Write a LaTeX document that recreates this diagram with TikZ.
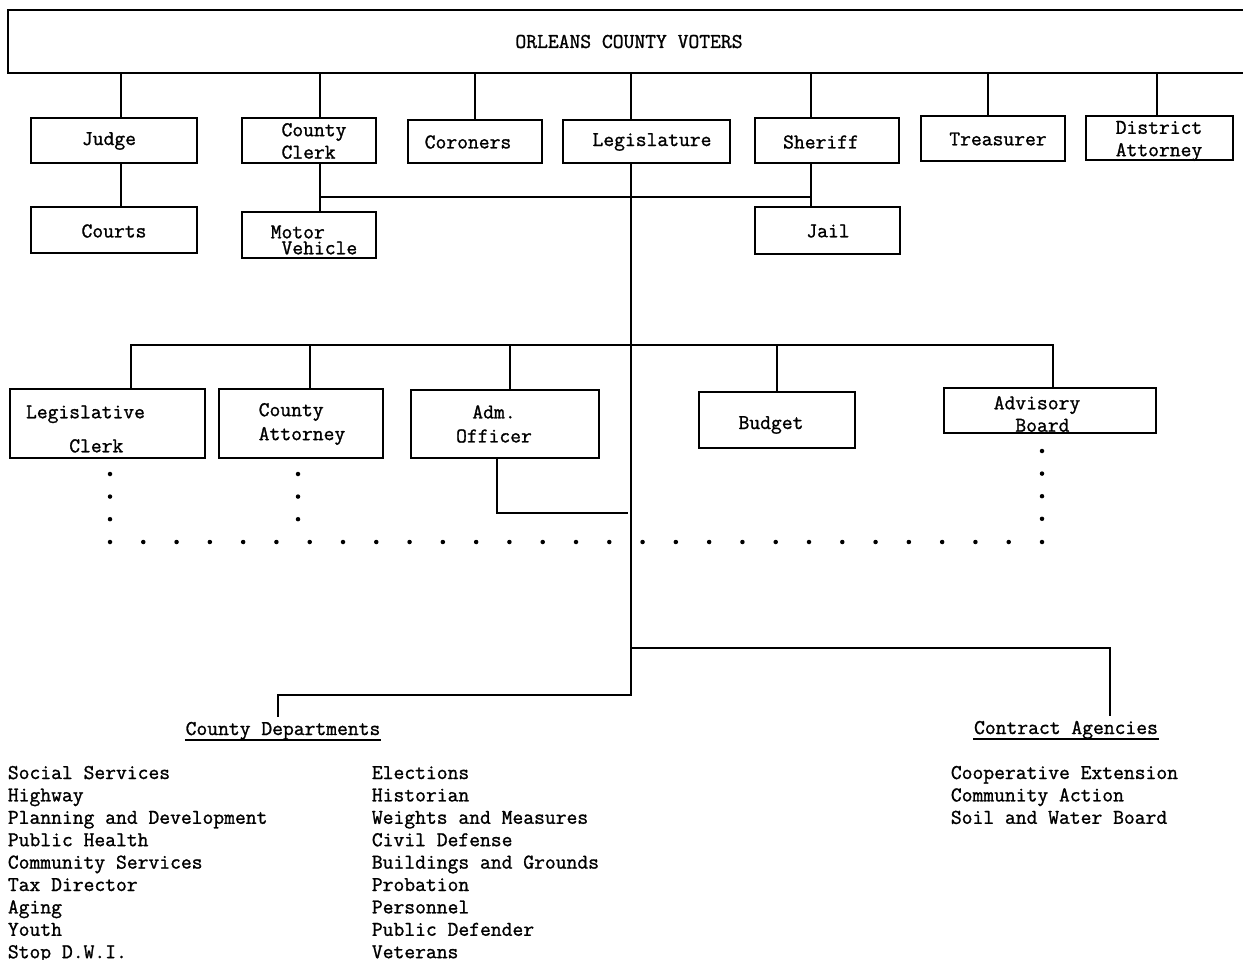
\documentclass[tikz,border=0pt]{standalone}
\usepackage{fontspec}
\usepackage{tikz}
\newfontfamily\orgtt{Latin Modern Mono}[FakeBold=1.2]
\newcommand{\orgfont}{\orgtt\fontsize{21pt}{22.4pt}\selectfont}
\tikzset{
  box/.style={draw, line width=1.8pt, inner sep=0pt},
  lbl/.style={inner sep=0pt},
  heading/.style={inner xsep=0pt, inner ysep=4pt, anchor=base},
  item/.style={inner sep=0pt, anchor=base west},
  typedots/.style={line width=4.5pt, line cap=round, dash pattern=on 0pt off #1}
}

\begin{document}
\begin{tikzpicture}[x=1pt,y=-1pt,line width=1.8pt,font=\orgfont]
  \useasboundingbox (0,0) rectangle (1243,960);
  \node[box, minimum width=1242pt, minimum height=63pt] (voters) at (629,41.5) {ORLEANS COUNTY VOTERS};

  % elected offices
  \node[box, minimum width=166pt, minimum height=45pt] (judge) at (114,140.5) {};
  \node[box, minimum width=134pt, minimum height=45pt] (clerk) at (309,140.5) {};
  \node[box, minimum width=134pt, minimum height=43pt] (coroners) at (475,141.5) {};
  \node[box, minimum width=167pt, minimum height=43pt] (legis) at (646.5,141.5) {};
  \node[box, minimum width=144pt, minimum height=45pt] (sheriff) at (827,140.5) {};
  \node[box, minimum width=144pt, minimum height=45pt] (treasurer) at (993,138.5) {};
  \node[box, minimum width=147pt, minimum height=44pt] (da) at (1159.5,138) {};
  \node[lbl] (judge-t) at (109,141) {Judge};
  \node[lbl, align=left] (clerk-t) at (314,141) {County\\Clerk};
  \node[lbl] (coroners-t) at (468,142) {Coroners};
  \node[lbl] (legis-t) at (652,142) {Legislature};
  \node[lbl] (sheriff-t) at (821,142) {Sheriff};
  \node[lbl] (treasurer-t) at (998,139) {Treasurer};
  \node[lbl, align=center] (da-t) at (1159,141) {District\\Attorney};

  \node[box, minimum width=166pt, minimum height=46pt] (courts) at (114,230) {};
  \node[box, minimum width=134pt, minimum height=46pt] (motor) at (309,235) {};
  \node[box, minimum width=145pt, minimum height=47pt] (jail) at (827.5,230.5) {};
  \node[lbl] (courts-t) at (114,231) {Courts};
  \node[lbl, align=left] (motor-t) at (314,240) {Motor\\[-6.4pt]\hphantom{x}Vehicle};
  \node[lbl] (jail-t) at (828,231) {Jail};

  \draw (121,0 |- voters.south) -- (121,0 |- judge.north);
  \draw (320,0 |- voters.south) -- (320,0 |- clerk.north);
  \draw (475,0 |- voters.south) -- (475,0 |- coroners.north);
  \draw (631,0 |- voters.south) -- (631,0 |- legis.north);
  \draw (811,0 |- voters.south) -- (811,0 |- sheriff.north);
  \draw (988,0 |- voters.south) -- (988,0 |- treasurer.north);
  \draw (1157,0 |- voters.south) -- (1157,0 |- da.north);

  \draw (121,0 |- judge.south) -- (121,0 |- courts.north);
  \draw (320,0 |- clerk.south) -- (320,0 |- motor.north);
  \draw (320,197) -| (811,0 |- sheriff.south);
  \draw (811,0 |- sheriff.south) -- (811,0 |- jail.north);

  % legislature staff
  \node[box, minimum width=195pt, minimum height=69pt] (lclerk) at (107.5,423.5) {};
  \node[box, minimum width=164pt, minimum height=69pt] (cattorney) at (301,423.5) {};
  \node[box, minimum width=188pt, minimum height=68pt] (admoff) at (505,424) {};
  \node[box, minimum width=156pt, minimum height=56pt] (budget) at (777,420) {};
  \node[box, minimum width=212pt, minimum height=45pt] (advisory) at (1050,410.5) {};
  \node[lbl, align=left] (lclerk-t) at (85.5,429) {Legislative\\[11.6pt]\hphantom{xxxx}Clerk};
  \node[lbl, align=left] (cattorney-t) at (302,424) {County\\[1.6pt]Attorney};
  \node[lbl, align=center] (admoff-t) at (494,424) {Adm.\\[1.6pt]Officer};
  \node[lbl] (budget-t) at (771,425) {Budget};
  \node[lbl, align=left] (advisory-t) at (1037,414) {Advisory\\\hphantom{xx}Board};

  \draw (131,0 |- lclerk.north) |- (1053,345) -- (1053,0 |- advisory.north);
  \draw (310,345) -- (310,0 |- cattorney.north);
  \draw (510,345) -- (510,0 |- admoff.north);
  \draw (777,345) -- (777,0 |- budget.north);
  \draw (497,0 |- admoff.south) |- (628,513);

  % dotted links
  \coordinate (dotsL) at (110,542);
  \coordinate (dotsR) at (1042,542);
  \draw[typedots=33.286pt] (dotsL) -- (1043,542);
  \draw[typedots=22.6pt] (110,474) -- (110,520);
  \draw[typedots=22.6pt] (298,474) -- (298,520);
  \draw[typedots=22.6pt] (1042,451) -- (1042,520);

  % departments and agencies
  \node[heading] (cdept) at (283,735) {County Departments};
  \node[heading] (cagency) at (1066,734) {Contract Agencies};
  \draw[line width=1.2pt] ([yshift=-5pt]cdept.base west) -- ([yshift=-5pt]cdept.base east);
  \draw[line width=1.2pt] ([yshift=-5pt]cagency.base west) -- ([yshift=-5pt]cagency.base east);

  \draw (631,0 |- legis.south) |- (278,695) -- (278,0 |- cdept.north);
  \draw (631,648) -| (1110,0 |- cagency.north);

  \foreach \t [count=\i] in {Social Services, Highway, Planning and Development, Public Health,
      Community Services, Tax Director, Aging, Youth, Stop D.W.I.}
    \node[item] (dl\i) at (7,756.6+22.4*\i) {\t};
  \foreach \t [count=\i] in {Elections, Historian, Weights and Measures, Civil Defense,
      Buildings and Grounds, Probation, Personnel, Public Defender, Veterans}
    \node[item] (dm\i) at (371,756.6+22.4*\i) {\t};
  \foreach \t [count=\i] in {Cooperative Extension, Community Action, Soil and Water Board}
    \node[item] (ca\i) at (950,756.6+22.4*\i) {\t};
\end{tikzpicture}
\end{document}
